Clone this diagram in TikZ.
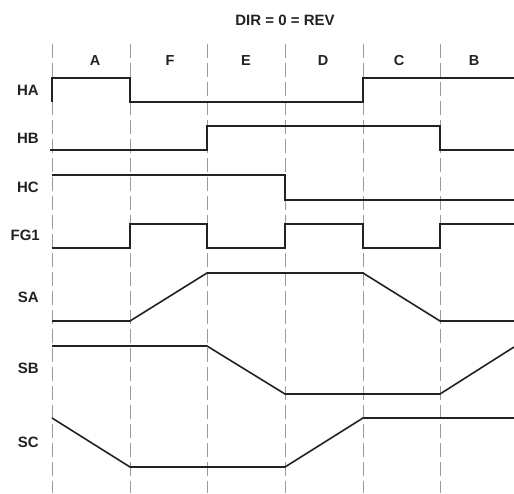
\documentclass[tikz,border=0pt]{standalone}
\usepackage{fontspec}
\setmainfont{Liberation Sans}
\usepackage{tikz}
\usetikzlibrary{positioning}
\definecolor{WaveDark}{HTML}{222222}
\definecolor{GridGray}{HTML}{9A9A9A}
\tikzset{
  wave/.style={line width=1.6pt,draw=WaveDark,line join=miter},
  gridline/.style={draw=GridGray,line width=0.9pt,dash pattern=on 14pt off 5pt},
  siglabel/.style={font=\fontsize{15}{17}\selectfont\bfseries,text=WaveDark,anchor=east,inner sep=0pt},
  phaselabel/.style={font=\fontsize{14.5}{17}\selectfont\bfseries,text=WaveDark,inner sep=0pt},
  titlelabel/.style={font=\fontsize{15}{17}\selectfont\bfseries,text=WaveDark,inner sep=0pt}
}

\begin{document}
\begin{tikzpicture}[x=1pt,y=-1pt]
\useasboundingbox (0,0) rectangle (514,493);
\node[titlelabel] (title) at (285,20) {DIR = 0 = REV};
% phase boundaries
\foreach \x in {52,130,207,285,363,440}
  \draw[gridline] (\x,44) -- (\x,493);
% phase names
\foreach \p/\x in {A/95,F/170,E/246,D/323,C/399,B/474}
  \node[phaselabel] (ph\p) at (\x,61) {\p};
% signal names
\node[siglabel] (lHA) at (39,90) {HA};
\node[siglabel] (lHB) at (39,138) {HB};
\node[siglabel] (lHC) at (39,187) {HC};
\node[siglabel] (lFG) at (40,235) {FG1};
\node[siglabel] (lSA) at (39,297) {SA};
\node[siglabel] (lSB) at (39,368) {SB};
\node[siglabel] (lSC) at (39,442) {SC};
% hall signals
\draw[wave] (52,102) -- (52,78) -- (130,78) -- (130,102) -- (363,102) -- (363,78) -- (514,78);
\draw[wave] (50,150) -- (207,150) -- (207,126) -- (440,126) -- (440,150) -- (514,150);
\draw[wave] (52,175) -- (285,175) -- (285,200) -- (514,200);
\draw[wave] (52,248) -- (130,248) -- (130,224) -- (207,224) -- (207,248) -- (285,248) -- (285,224)
  -- (363,224) -- (363,248) -- (440,248) -- (440,224) -- (514,224);
% phase outputs
\draw[wave] (52,321) -- (130,321) -- (207,273) -- (363,273) -- (440,321) -- (514,321);
\draw[wave] (52,346) -- (207,346) -- (285,394) -- (440,394) -- (514,347);
\draw[wave] (52,418) -- (130,467) -- (285,467) -- (363,418) -- (514,418);
\end{tikzpicture}
\end{document}
